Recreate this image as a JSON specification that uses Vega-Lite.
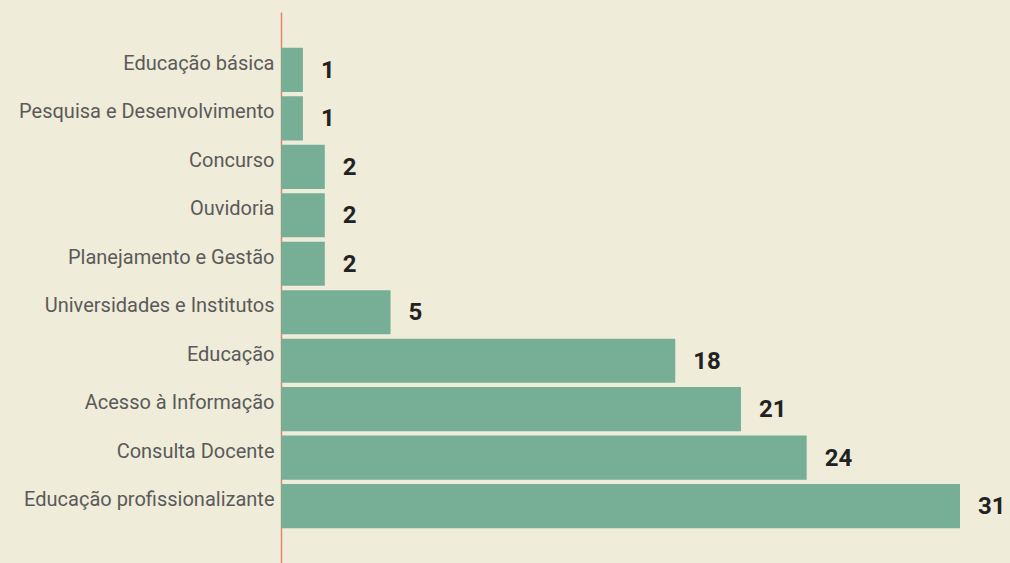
{
  "$schema": "https://vega.github.io/schema/vega-lite/v6.json",
  "autosize": "none",
  "width": 679,
  "height": 552,
  "padding": {"left": 281, "top": 12, "right": 50, "bottom": 0},
  "background": "#efecd9",
  "config": {"view": {"stroke": null}},
  "data": {
    "values": [
      {"categoria": "Educação básica", "valor": 1},
      {"categoria": "Pesquisa e Desenvolvimento", "valor": 1},
      {"categoria": "Concurso", "valor": 2},
      {"categoria": "Ouvidoria", "valor": 2},
      {"categoria": "Planejamento e Gestão", "valor": 2},
      {"categoria": "Universidades e Institutos", "valor": 5},
      {"categoria": "Educação", "valor": 18},
      {"categoria": "Acesso à Informação", "valor": 21},
      {"categoria": "Consulta Docente", "valor": 24},
      {"categoria": "Educação profissionalizante", "valor": 31}
    ]
  },
  "encoding": {
    "y": {
      "field": "categoria",
      "type": "nominal",
      "sort": null,
      "scale": {"paddingInner": 0.09, "paddingOuter": 0.74},
      "axis": {
        "title": null,
        "ticks": false,
        "domainColor": "#e8836b",
        "domainWidth": 1.5,
        "labelFont": "Roboto",
        "labelFontSize": 20,
        "labelColor": "#5a5a5a",
        "labelPadding": 7,
        "labelOffset": -6,
        "labelLimit": 400
      }
    },
    "x": {
      "field": "valor",
      "type": "quantitative",
      "scale": {"domain": [0, 31], "nice": false},
      "axis": null
    }
  },
  "layer": [
    {"mark": {"type": "bar", "color": "#77ae96", "clip": false}},
    {
      "mark": {
        "type": "text",
        "align": "left",
        "baseline": "middle",
        "dx": 18,
        "dy": 1,
        "font": "Roboto",
        "fontSize": 24,
        "fontWeight": "bold",
        "color": "#222222",
        "clip": false
      },
      "encoding": {"text": {"field": "valor", "type": "quantitative"}}
    }
  ]
}
